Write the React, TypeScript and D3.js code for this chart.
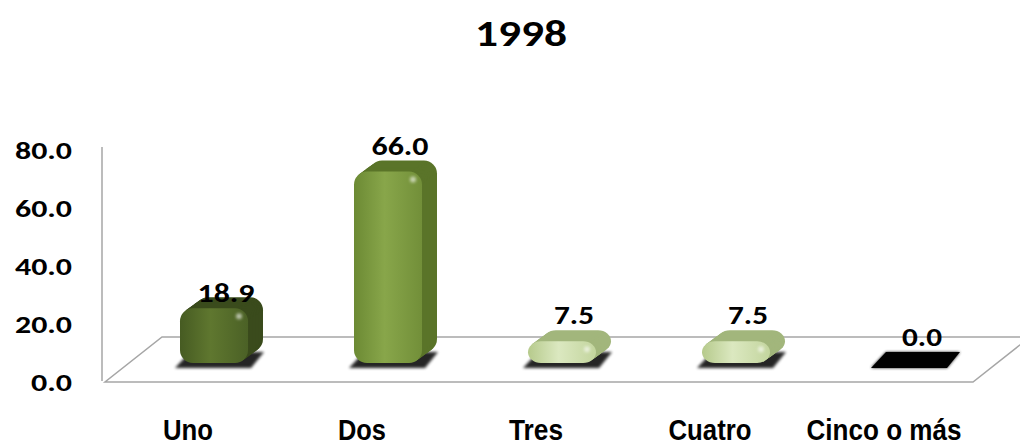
import React from "react";
import * as d3 from "d3";

const title = "1998";
const categories = ["Uno", "Dos", "Tres", "Cuatro", "Cinco o más"];
const values = [18.9, 66.0, 7.5, 7.5, 0.0];
const tickValues = [0, 20, 40, 60, 80];

const W = 1020;
const H = 447;

const palettes = [
  { l: "#465b22", m: "#5f772f", r: "#4b6126", side: "#3a4b1c" },
  { l: "#6c8a34", m: "#88a64a", r: "#728f39", side: "#5a7429" },
  { l: "#b6ca8c", m: "#dbe8c0", r: "#c3d59e", side: "#a2b67c" },
  { l: "#b6ca8c", m: "#dbe8c0", r: "#c3d59e", side: "#a2b67c" },
  { l: "#000", m: "#000", r: "#000", side: "#000" },
];

// approximate rendered widths of the condensed category labels
const catWidths = [50, 48, 54, 83, 155];

export default function App() {
  const floorLeft = 105;
  const floorRight = 973;
  const zeroY = 382;
  const depthX = 57;
  const depthY = -45;

  const x = d3.scaleBand<string>().domain(categories).range([101, 971]);
  const y = d3.scaleLinear().domain([0, 80]).range([zeroY, zeroY - 232]);

  const offX = 26;
  const offY = -19;
  const barW = 68;
  const dX = 15;
  const dY = -11;
  const steps = 10;

  const fmt = d3.format(".1f");
  const numFont = "Carlito, Lato, 'Open Sans', sans-serif";

  return (
    <svg
      width={W}
      height={H}
      style={{ position: "absolute", left: 0, top: 0, background: "#fff" }}
      xmlns="http://www.w3.org/2000/svg"
    >
      <defs>
        {palettes.map((p, i) => (
          <linearGradient key={i} id={`g${i}`} x1="0" x2="1" y1="0" y2="0">
            <stop offset="0%" stopColor={p.l} />
            <stop offset="45%" stopColor={p.m} />
            <stop offset="100%" stopColor={p.r} />
          </linearGradient>
        ))}
        <filter id="blur" x="-20%" y="-50%" width="140%" height="200%">
          <feGaussianBlur stdDeviation="1.6" />
        </filter>
        <filter id="hblur" x="-100%" y="-100%" width="300%" height="300%">
          <feGaussianBlur stdDeviation="1.5" />
        </filter>
      </defs>

      <text
        x={521}
        y={46}
        textAnchor="middle"
        fontFamily={numFont}
        fontWeight="bold"
        fontSize={37}
        textLength={92}
        lengthAdjust="spacingAndGlyphs"
        fill="#000"
      >
        {title}
      </text>

      <polygon
        points={`${floorLeft},${zeroY} ${floorRight},${zeroY} ${floorRight + depthX},${zeroY + depthY} ${floorLeft + depthX},${zeroY + depthY}`}
        fill="none"
        stroke="#a6a6a6"
        strokeWidth={1.5}
      />
      <line x1={102} x2={102} y1={y(80) - 3} y2={zeroY - 1} stroke="#a6a6a6" strokeWidth={1.5} />

      {tickValues.map((t) => (
        <text
          key={t}
          x={72}
          y={y(t) + 8.5}
          textAnchor="end"
          fontFamily={numFont}
          fontWeight="bold"
          fontSize={25}
          textLength={t === 0 ? 41 : 57}
          lengthAdjust="spacingAndGlyphs"
          fill="#000"
        >
          {fmt(t)}
        </text>
      ))}

      {categories.map((c, i) => {
        const v = values[i];
        const xc = (x(c) as number) + x.bandwidth() / 2;
        const L = xc + offX - barW / 2;
        const base = zeroY + offY;
        const top = y(v) + offY;
        const h = base - top;
        const shadow = `${L - 5},${base + 5} ${L + 71},${base + 5} ${L + 84},${base - 11} ${L + 10},${base - 11}`;
        if (v === 0) {
          return (
            <g key={c}>
              <polygon points={shadow} fill="#000" filter="url(#blur)" opacity={0.9} />
              <polygon points={shadow} fill="#000" />
            </g>
          );
        }
        const rx = Math.min(13, h / 2 + 2);
        const layers = d3.range(steps, 0, -1).map((s) => s / steps);
        return (
          <g key={c}>
            <polygon points={shadow} fill="#000" filter="url(#blur)" opacity={0.85} />
            {layers.map((f, k) => (
              <rect
                key={k}
                x={L + dX * f}
                y={top + dY * f}
                width={barW}
                height={h}
                rx={rx}
                ry={rx}
                fill={palettes[i].side}
              />
            ))}
            <rect x={L} y={top} width={barW} height={h} rx={rx} ry={rx} fill={`url(#g${i})`} />
            <ellipse
              cx={L + barW - 9}
              cy={top + Math.min(8, h / 2)}
              rx={3}
              ry={3}
              fill="#fff"
              opacity={0.6}
              filter="url(#hblur)"
            />
          </g>
        );
      })}

      {categories.map((c, i) => {
        const v = values[i];
        const xc = (x(c) as number) + x.bandwidth() / 2;
        const top = y(v) + offY;
        return (
          <text
            key={c}
            x={xc + 38}
            y={top - (i === 0 ? 6 : 17)}
            textAnchor="middle"
            fontFamily={numFont}
            fontWeight="bold"
            fontSize={26}
            textLength={v >= 10 ? 57 : 40}
            lengthAdjust="spacingAndGlyphs"
            fill="#000"
          >
            {fmt(v)}
          </text>
        );
      })}

      {categories.map((c, i) => (
        <text
          key={c}
          x={(x(c) as number) + x.bandwidth() / 2}
          y={440}
          textAnchor="middle"
          fontFamily="'Liberation Sans Narrow', 'Arial Narrow', 'Liberation Sans', Arial, sans-serif"
          fontWeight="bold"
          fontSize={29}
          textLength={catWidths[i]}
          lengthAdjust="spacingAndGlyphs"
          fill="#000"
        >
          {c}
        </text>
      ))}
    </svg>
  );
}
